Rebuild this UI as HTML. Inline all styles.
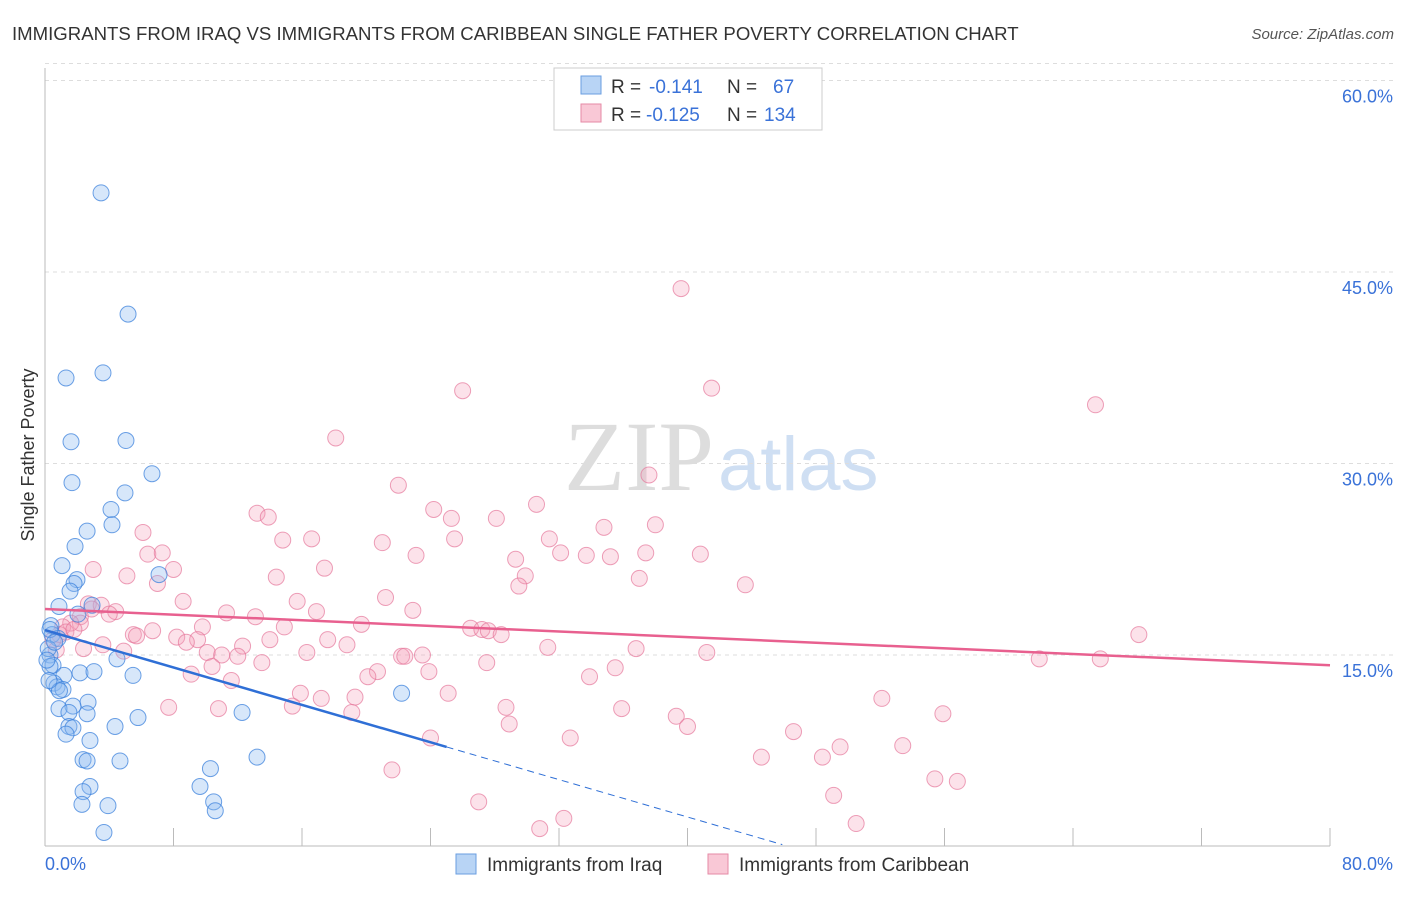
<!DOCTYPE html>
<html><head><meta charset="utf-8"><style>
body{margin:0;background:#fff;font-family:"Liberation Sans",sans-serif}
</style></head><body>
<svg width="1406" height="892" xmlns="http://www.w3.org/2000/svg" id="svg" style="font-family:'Liberation Sans',sans-serif">
<text x="12" y="40" font-size="18.6" fill="#333">IMMIGRANTS FROM IRAQ VS IMMIGRANTS FROM CARIBBEAN SINGLE FATHER POVERTY CORRELATION CHART</text>
<text x="1394" y="39" font-size="15" fill="#555" text-anchor="end" font-style="italic">Source: ZipAtlas.com</text>
<text x="714" y="490" font-size="100" fill="#ddd" font-family="Liberation Serif" text-anchor="end">ZIP</text>
<text x="718" y="490" font-size="76" fill="#cfdff3">atlas</text>
<text x="34" y="455" font-size="18" fill="#333" text-anchor="middle" transform="rotate(-90 34 455)">Single Father Poverty</text>
<g id="grid"></g><g id="marks"></g><g id="trend"></g>
<g>
<rect x="554" y="68" width="268" height="62" fill="#fff" stroke="#ccc"/>
<rect x="581" y="76" width="20" height="18" fill="#b8d4f5" stroke="#6a9ee0"/>
<rect x="581" y="104" width="20" height="18" fill="#f9c8d6" stroke="#e58aa6"/>
<text x="611" y="93" font-size="19" fill="#333">R =</text>
<text x="649" y="93" font-size="19" fill="#3a72d8">-0.141</text>
<text x="727" y="93" font-size="19" fill="#333">N =</text>
<text x="773" y="93" font-size="19" fill="#3a72d8">67</text>
<text x="611" y="121" font-size="19" fill="#333">R =</text>
<text x="646" y="121" font-size="19" fill="#3a72d8">-0.125</text>
<text x="727" y="121" font-size="19" fill="#333">N =</text>
<text x="764" y="121" font-size="19" fill="#3a72d8">134</text>
</g>
<g>
<rect x="456" y="854" width="20" height="20" fill="#b8d4f5" stroke="#6a9ee0"/>
<text x="487" y="871" font-size="19" fill="#333">Immigrants from Iraq</text>
<rect x="708" y="854" width="20" height="20" fill="#f9c8d6" stroke="#e58aa6"/>
<text x="739" y="871" font-size="19" fill="#333">Immigrants from Caribbean</text>
</g>
</svg>
<script>
const yTicks=[15,30,45,60];
const yTickLabels=["15.0%","30.0%","45.0%","60.0%"];
const xTicks=[0,8,16,24,32,40,48,56,64,72,80];
const iraqX=[3.49,5.17,1.31,3.61,1.62,5.04,6.66,1.68,4.98,4.11,4.17,2.62,1.87,1.06,7.1,1.99,1.81,1.56,2.93,0.87,2.05,0.37,0.44,0.81,0.31,4.48,0.5,0.31,2.18,3.05,1.18,5.48,0.56,0.75,1.12,22.2,2.68,1.74,0.87,2.62,1.49,5.79,12.27,4.36,1.49,1.74,1.31,2.8,13.2,2.37,2.62,4.67,10.3,2.8,9.65,2.37,2.3,3.92,10.5,10.6,3.67,0.2,0.12,0.31,0.6,0.9,0.25];
const iraqY=[51.2,41.7,36.7,37.1,31.7,31.8,29.2,28.5,27.7,26.4,25.2,24.7,23.5,22.0,21.3,20.9,20.6,20.0,18.9,18.8,18.2,17.3,16.6,16.3,15.0,14.7,14.2,14.1,13.6,13.7,13.4,13.4,12.8,12.5,12.3,12.0,11.3,11.0,10.8,10.4,10.5,10.1,10.5,9.4,9.4,9.3,8.8,8.3,7.0,6.8,6.7,6.7,6.1,4.7,4.7,4.3,3.3,3.2,3.5,2.8,1.1,15.5,14.6,17.0,16.0,12.2,13.0];
const carX=[39.6,26,41.5,65.4,18.1,37.6,22,30.6,13.2,13.9,24.2,25.3,28.1,34.8,38,6.1,14.8,16.6,25.5,31.4,21,6.4,7.3,23.1,32.1,33.7,35.2,37.4,40.8,29.3,17.4,8,3,5.1,14.4,29.9,37,7,29.5,43.6,21.2,8.6,15.7,2.7,3.5,22.9,16.9,4.4,11.3,13.1,4,2.2,2.2,1.6,1.1,14.9,19.7,9.8,6.7,26.5,27.2,27.6,28.4,68.1,5.5,5.7,8.2,9.5,8.8,14,17.6,0.9,18.8,3.6,12.3,31.3,36.8,2.4,0.7,4.9,10.1,16.3,11,12,22.2,22.4,23.5,41.2,61.9,65.7,13.5,27.5,10.4,35.5,20.7,23.9,9.1,20.1,33.9,11.6,15.9,17.2,19.3,25.1,15.4,52.1,7.7,10.8,28.7,35.9,19.1,39.3,55.9,28.9,40,24,32.7,46.6,49.5,53.4,44.6,48.4,21.6,55.4,56.8,49.1,27,32.3,30.8,50.5,1.3,0.5,1.8,2.9];
const carY=[43.7,35.7,35.9,34.6,32,29.1,28.3,26.8,26.1,25.8,26.4,25.7,25.7,25,25.2,24.6,24,24.1,24.1,24.1,23.8,22.9,23,22.8,23,22.8,22.7,23,22.9,22.5,21.8,21.7,21.7,21.2,21.1,21.2,21,20.6,20.4,20.5,19.5,19.2,19.2,19,18.9,18.5,18.4,18.4,18.3,18,18.2,18,17.5,17.5,17.2,17.2,17.4,17.2,16.9,17.1,17,16.9,16.6,16.6,16.6,16.5,16.4,16.2,16,16.2,16.2,16.6,15.8,15.8,15.7,15.6,15.5,15.5,15.4,15.3,15.2,15.2,15,14.9,14.9,14.9,15,15.2,14.7,14.7,14.4,14.4,14.1,14,13.7,13.7,13.5,13.3,13.3,13,12,11.6,11.7,12,11,11.6,10.9,10.8,10.9,10.8,10.5,10.2,10.4,9.6,9.4,8.5,8.5,9,7.8,7.9,7,7,6,5.3,5.1,4,3.5,2.2,1.4,1.8,16.8,16.2,17.0,18.6];
const iraqTrend=[16.95,-0.366];
const iraqSolidEnd=25;
const carTrend=[18.6,-0.055];
const NS="http://www.w3.org/2000/svg";
const X=v=>45+v*(1285/80), Y=v=>846.5-v*(191.5/15);
function mk(t,a,p){const e=document.createElementNS(NS,t);for(const k in a)e.setAttribute(k,a[k]);p.appendChild(e);return e;}
const grid=document.getElementById('grid'),marks=document.getElementById('marks'),tr=document.getElementById('trend');
yTicks.forEach((v,i)=>{
 const l=mk('line',{x1:45,x2:1394,y1:Y(v),y2:Y(v),stroke:'#ddd','stroke-dasharray':'4,4'},grid);
 
 
 const t=mk('text',{x:1393,y:Y(v)+22,'font-size':18,fill:'#3a72d8','text-anchor':'end'},grid);t.textContent=yTickLabels[i];
 
 
});
const topGrid=mk('line',{x1:45,x2:1394,y1:Y(60)-17,y2:Y(60)-17,stroke:'#ddd','stroke-dasharray':'4,4'},grid);

const ya=mk('line',{x1:45,x2:45,y1:68,y2:846,stroke:'#bbb'},grid);

const xa=mk('line',{x1:45,x2:1330,y1:846,y2:846,stroke:'#bbb'},grid);

xTicks.forEach(v=>{const l=mk('line',{x1:X(v),x2:X(v),y1:828,y2:846,stroke:'#bbb'},grid);
 
 });
const xl0=mk('text',{x:45,y:870,'font-size':18,fill:'#3a72d8'},grid);xl0.textContent='0.0%';

const xl1=mk('text',{x:1393,y:870,'font-size':18,fill:'#3a72d8','text-anchor':'end'},grid);xl1.textContent='80.0%';

carX.forEach((v,i)=>{const c=mk('circle',{cx:X(v),cy:Y(carY[i]),r:8,fill:'rgba(244,160,185,0.3)',stroke:'rgba(230,120,155,0.7)','stroke-width':1},marks);
 
 });
iraqX.forEach((v,i)=>{const c=mk('circle',{cx:X(v),cy:Y(iraqY[i]),r:8,fill:'rgba(140,185,240,0.35)',stroke:'rgba(60,130,220,0.75)','stroke-width':1},marks);
 
 });
const fy=(t,x)=>t[0]+t[1]*x;
const ct=mk('line',{x1:X(0),y1:Y(fy(carTrend,0)),x2:X(80),y2:Y(fy(carTrend,80)),stroke:'#e8608f','stroke-width':2.5},tr);


const bt=mk('line',{x1:X(0),y1:Y(fy(iraqTrend,0)),x2:X(iraqSolidEnd),y2:Y(fy(iraqTrend,iraqSolidEnd)),stroke:'#2f6fd6','stroke-width':2.5},tr);


const xe=(0.15-iraqTrend[0])/iraqTrend[1];
const bd=mk('line',{x1:X(iraqSolidEnd),y1:Y(fy(iraqTrend,iraqSolidEnd)),x2:X(xe),y2:Y(fy(iraqTrend,xe)),stroke:'#2f6fd6','stroke-width':1,'stroke-dasharray':'7,5'},tr);


</script>
</body></html>
